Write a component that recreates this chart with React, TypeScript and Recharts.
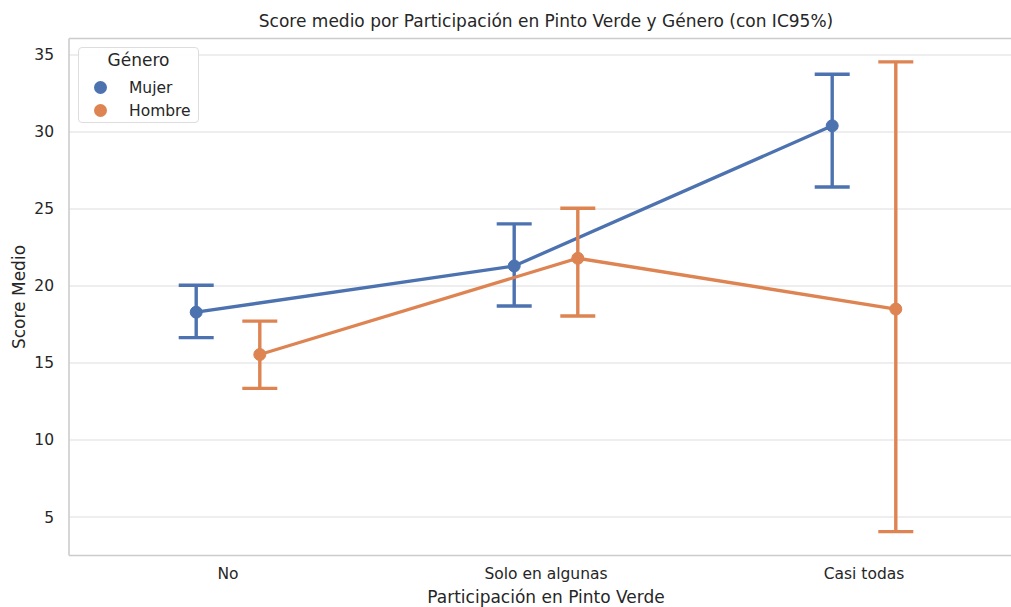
import React from "react";
import {
  CartesianGrid,
  ErrorBar,
  Line,
  LineChart,
  ReferenceLine,
  XAxis,
  YAxis,
} from "recharts";

const categories = ["No", "Solo en algunas", "Casi todas"];

const mujerMean = [18.3, 21.3, 30.4];
const mujerLow = [16.65, 18.7, 26.43];
const mujerHigh = [20.05, 24.03, 33.75];

const hombreMean = [15.55, 21.8, 18.5];
const hombreLow = [13.35, 18.05, 4.05];
const hombreHigh = [17.72, 25.05, 34.55];

const yTicks = [5, 10, 15, 20, 25, 30, 35];

const DODGE = 0.1;
const FONT = "'DejaVu Sans', sans-serif";
const TEXT = "#262626";
const BLUE = "#4c72b0";
const ORANGE = "#dd8452";

function buildSeries(mean: number[], low: number[], high: number[], shift: number) {
  return mean.map((m, i) => ({
    x: i + shift,
    y: m,
    err: [m - low[i], high[i] - m],
  }));
}

const mujerData = buildSeries(mujerMean, mujerLow, mujerHigh, -DODGE);
const hombreData = buildSeries(hombreMean, hombreLow, hombreHigh, DODGE);

const tickStyle = { fontSize: 15.5, fill: TEXT, fontFamily: FONT };

function LegendBox() {
  const row = (color: string, label: string) => (
    <div style={{ display: "flex", alignItems: "center", height: 23 }}>
      <span
        style={{
          width: 13,
          height: 13,
          borderRadius: "50%",
          background: color,
          marginLeft: 15,
          marginRight: 22,
        }}
      />
      <span style={{ fontSize: 15.5, color: TEXT }}>{label}</span>
    </div>
  );
  return (
    <div
      style={{
        position: "absolute",
        left: 78,
        top: 47,
        width: 121,
        height: 76,
        border: "1px solid #dddddd",
        borderRadius: 4,
        background: "rgba(255,255,255,0.9)",
        fontFamily: FONT,
        boxSizing: "border-box",
      }}
    >
      <div style={{ textAlign: "center", fontSize: 17, color: TEXT, marginTop: 2, height: 26 }}>
        Género
      </div>
      {row(BLUE, "Mujer")}
      {row(ORANGE, "Hombre")}
    </div>
  );
}

export default function App() {
  return (
    <div
      style={{
        position: "fixed",
        left: 0,
        top: 0,
        width: "100vw",
        height: 607,
        overflow: "hidden",
        background: "#fff",
        fontFamily: FONT,
      }}
    >
      <LineChart
        width={1023}
        height={607}
        margin={{ top: 38.5, right: 0, bottom: 0, left: 0 }}
      >
        <CartesianGrid vertical={false} stroke="#dedede" strokeWidth={1.2} />
        <XAxis
          type="number"
          dataKey="x"
          domain={[-0.5, 2.5]}
          ticks={[0, 1, 2]}
          tickFormatter={(v: number) => categories[v] ?? ""}
          allowDataOverflow
          height={51.5}
          tickLine={false}
          tickSize={0}
          tickMargin={12}
          tick={tickStyle}
          axisLine={{ stroke: "#cccccc", strokeWidth: 1.6 }}
          label={{
            value: "Participación en Pinto Verde",
            position: "insideBottom",
            offset: 4,
            style: { fontSize: 17, fill: TEXT, fontFamily: FONT },
          }}
        />
        <YAxis
          type="number"
          domain={[2.5, 36.07]}
          ticks={yTicks}
          allowDataOverflow
          width={69}
          tickLine={false}
          tickSize={0}
          tickMargin={15}
          tick={tickStyle}
          axisLine={{ stroke: "#cccccc", strokeWidth: 1.6 }}
        />
        <ReferenceLine y={36.07} stroke="#cccccc" strokeWidth={1.6} />
        <Line
          data={mujerData}
          dataKey="y"
          name="Mujer"
          stroke={BLUE}
          strokeWidth={3.3}
          dot={{ r: 6, fill: BLUE, stroke: BLUE, strokeWidth: 1 }}
          activeDot={false}
          isAnimationActive={false}
        >
          <ErrorBar dataKey="err" direction="y" width={17.5} stroke={BLUE} strokeWidth={3.4} />
        </Line>
        <Line
          data={hombreData}
          dataKey="y"
          name="Hombre"
          stroke={ORANGE}
          strokeWidth={3.3}
          dot={{ r: 6, fill: ORANGE, stroke: ORANGE, strokeWidth: 1 }}
          activeDot={false}
          isAnimationActive={false}
        >
          <ErrorBar dataKey="err" direction="y" width={17.5} stroke={ORANGE} strokeWidth={3.4} />
        </Line>
      </LineChart>
      <div
        style={{
          position: "absolute",
          left: 0,
          width: 1092,
          top: 11,
          textAlign: "center",
          fontSize: 17,
          color: TEXT,
        }}
      >
        Score medio por Participación en Pinto Verde y Género (con IC95%)
      </div>
      <div
        style={{
          position: "absolute",
          left: 19,
          top: 297,
          transform: "translate(-50%, -50%) rotate(-90deg)",
          fontSize: 17,
          color: TEXT,
          whiteSpace: "nowrap",
        }}
      >
        Score Medio
      </div>
      <LegendBox />
    </div>
  );
}
